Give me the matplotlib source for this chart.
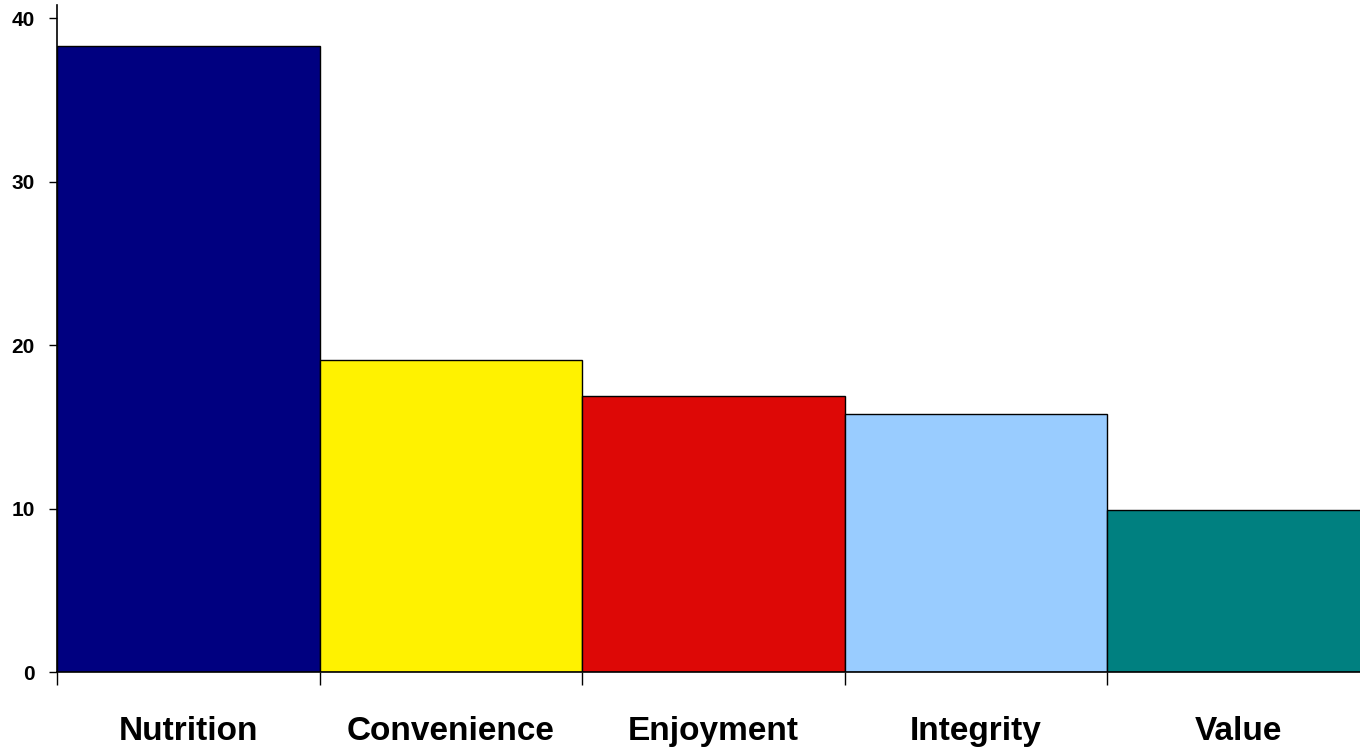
import matplotlib
matplotlib.use("Agg")
import matplotlib.pyplot as plt
import numpy as np

categories = ["Nutrition", "Convenience", "Enjoyment", "Integrity", "Value"]
values = [38.3, 19.1, 16.9, 15.8, 9.9]
colors = ["#000080", "#FFF200", "#DD0806", "#99CCFF", "#008080"]
yticks = [0, 10, 20, 30, 40]

plt.rcParams['font.family'] = ['Liberation Sans', 'DejaVu Sans']
fig = plt.figure(figsize=(13.6, 7.53), dpi=100)
ax = fig.add_axes([57/1360, 81/753, 1313/1360, 667/753])

x = np.arange(len(categories))
ax.bar(x, values, width=1.0, color=colors, edgecolor="black", linewidth=1.0, zorder=2)
ax.set_xlim(-0.5, len(categories) - 0.5)
ax.set_ylim(0, 40.8)

ax.spines['top'].set_visible(False)
ax.spines['right'].set_visible(False)
ax.spines['left'].set_linewidth(1.2)
ax.spines['bottom'].set_linewidth(1.2)

ax.set_yticks(yticks)
ax.set_yticklabels([str(v) for v in yticks], fontsize=15, fontweight='bold')
ax.tick_params(axis='y', direction='out', length=6, width=1, pad=10)

ax.set_xticks(x)
ax.set_xticklabels(categories, fontsize=24, fontweight='bold')
ax.tick_params(axis='x', which='major', length=0, pad=32)
ax.set_xticks(np.arange(len(categories) + 1) - 0.5, minor=True)
ax.tick_params(axis='x', which='minor', direction='out', length=9, width=1)

fig.savefig("out.png", dpi=100)
